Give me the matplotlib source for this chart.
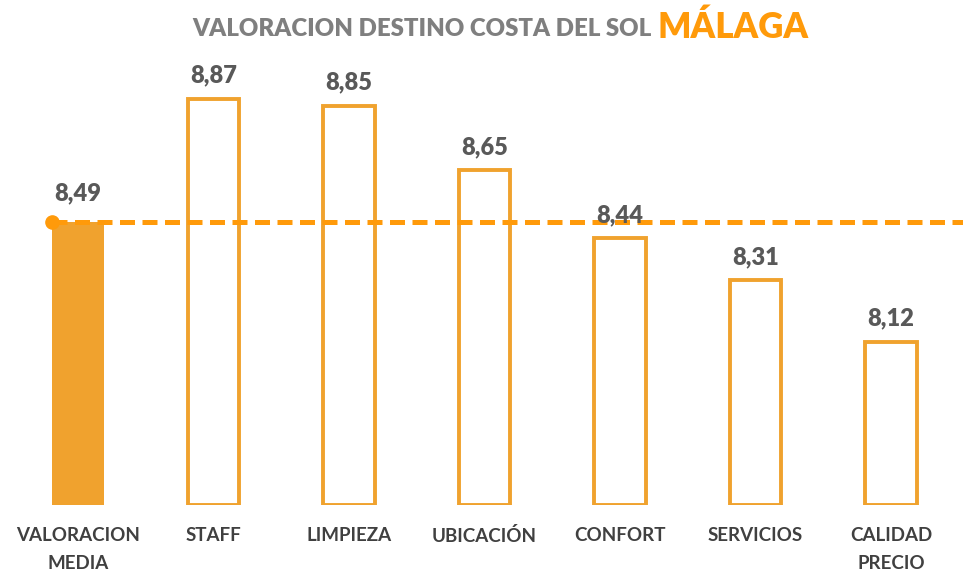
import matplotlib as mpl
mpl.use('Agg')
import matplotlib.pyplot as plt

categorias = ["VALORACION\nMEDIA", "STAFF", "LIMPIEZA", "UBICACIÓN",
              "CONFORT", "SERVICIOS", "CALIDAD\nPRECIO"]
valores = [8.49, 8.87, 8.85, 8.65, 8.44, 8.31, 8.12]
etiquetas = ["8,49", "8,87", "8,85", "8,65", "8,44", "8,31", "8,12"]
media = 8.49

naranja = '#F0A22E'
naranja_linea = '#FF9A0A'
gris_txt = '#595959'

plt.rcParams['font.family'] = ['Lato', 'DejaVu Sans']

fig = plt.figure(figsize=(9.63, 5.73), dpi=100)
ax = fig.add_axes([0, 68/573, 1, 445/573])

ymin = 7.617
ax.set_ylim(ymin, ymin + 445/324)
ax.set_xlim(-78/135.5, (963-78)/135.5)

x = list(range(len(valores)))
w = 0.38
ax.bar(x[0], valores[0] - ymin, bottom=ymin, width=w, color=naranja, zorder=2)
ax.bar(x[1:], [v - ymin for v in valores[1:]], bottom=ymin, width=w,
       facecolor='white', edgecolor=naranja, linewidth=2.8, zorder=2)

# linea de la media
ax.plot([x[0] - w/2, ax.get_xlim()[1]], [media, media], color=naranja_linea,
        lw=3.6, ls=(0, (3.0, 1.5)), zorder=3)
ax.plot([x[0] - w/2], [media], 'o', color=naranja_linea, ms=9.5, zorder=4)

for i, (v, t) in enumerate(zip(valores, etiquetas)):
    off = 0.09 if i == 0 else 0.072
    ax.text(i, v + off, t, ha='center', va='center', fontsize=17,
            fontweight='heavy', color=gris_txt, zorder=5)

for i, c in enumerate(categorias):
    ax.text(i, ymin - 0.068, c, ha='center', va='top', fontsize=13.5,
            fontweight='bold', color='#404040', linespacing=1.75)

ax.axis('off')

fig.text(652/963, 1 - 29/573, "VALORACION DESTINO COSTA DEL SOL", ha='right',
         va='center', fontsize=17.3, fontweight='heavy', color='#7F7F7F')
fig.text(657/963, 1 - 27/573, "MÁLAGA", ha='left', va='center',
         fontsize=25, fontweight='heavy', color='#FF9A0A')

fig.savefig('out.png', dpi=100)
